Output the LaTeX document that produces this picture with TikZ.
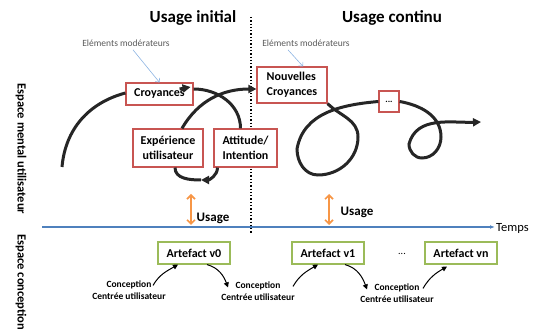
\documentclass[tikz,border=0pt]{standalone}
\usepackage{fontspec}
\setmainfont{Carlito}
\usetikzlibrary{arrows.meta}

\definecolor{boxred}{RGB}{200,85,82}
\definecolor{boxgreen}{RGB}{155,187,89}
\definecolor{axisblue}{RGB}{79,129,189}
\definecolor{usageorange}{RGB}{247,150,70}
\definecolor{modblue}{RGB}{141,180,226}
\definecolor{modgray}{RGB}{90,90,90}

\tikzset{
  title/.style={font=\fontsize{17}{20}\selectfont\bfseries},
  modtext/.style={font=\fontsize{9.5}{11}\selectfont, text=modgray},
  side/.style={font=\fontsize{12.5}{15}\selectfont\bfseries, rotate=-90},
  mental/.style={draw=boxred, line width=1.2pt, fill=white, align=center, inner sep=2pt,
    font=\fontsize{12}{15}\selectfont\bfseries},
  artefact/.style={draw=boxgreen, line width=1.2pt, fill=white, inner sep=2pt,
    minimum width=72pt, minimum height=22pt, font=\fontsize{12}{15}\selectfont\bfseries},
  concep/.style={align=center, inner sep=0pt, font=\fontsize{9.5}{12}\selectfont\bfseries},
  usagetext/.style={font=\fontsize{13}{15}\selectfont\bfseries},
  spiral/.style={line width=3pt, black!85},
  spiraltip/.style={-{Triangle[length=8pt,width=8pt]}},
  modarrow/.style={modblue, line width=0.6pt, -{Straight Barb[length=3pt]}},
  usagearrow/.style={usageorange, line width=1.6pt, {Straight Barb[length=4pt]}-{Straight Barb[length=4pt]}},
  axis/.style={axisblue, line width=1.1pt, -{Latex[length=5pt]}},
  design/.style={line width=1pt, -{Triangle[length=5pt,width=5pt]}},
  separation/.style={dotted, line width=1.3pt}
}

\begin{document}
\begin{tikzpicture}[x=1pt,y=1pt]
\useasboundingbox (0,0) rectangle (533,329);

\node[title] (init) at (193,311) {Usage initial};
\node[title] (cont) at (392,311) {Usage continu};
\draw[separation] (251,312) -- (251,96);

\node[side] (mental) at (21,180) {Espace mental utilisateur};
\node[side, anchor=west] (concept) at (21,98) {Espace conception};

\node[modtext] (mod1) at (126,286) {Eléments modérateurs};
\node[modtext] (mod2) at (306,286) {Eléments modérateurs};

\node[mental, minimum width=67pt, minimum height=22pt] (croy) at (159.5,235) {Croyances};
\node[mental, minimum width=70pt, minimum height=36pt, align=left] (ncroy) at (292,244) {Nouvelles\\Croyances};
\node[mental, minimum width=70pt, minimum height=38pt] (exp) at (168,181) {Expérience\\utilisateur};
\node[mental, minimum width=63pt, minimum height=38pt] (att) at (245.5,181) {Attitude/\\Intention};
\node[mental, minimum width=20pt, minimum height=21pt, inner sep=1pt,
  font=\fontsize{9}{10}\selectfont\bfseries] (etc) at (389,227.5) {...};

\draw[modarrow] ([xshift=7pt]mod1.south) -- (croy.north);
\draw[modarrow] ([xshift=-18pt]mod2.south) -- ([xshift=11pt]ncroy.north);

\coordinate (s0) at (62,162);
\coordinate (u1) at (201,149);
\coordinate (l1) at (358,192);
\coordinate (l2) at (318,154);
\coordinate (l3) at (297,180);
\coordinate (r1) at (441,192);
\coordinate (r2) at (422,171);
\coordinate (r3) at (409,185);
\coordinate (s9) at (481,207);

\draw[spiral] (s0) to[out=85,in=195] ([yshift=1pt]croy.west);
\draw[spiral, spiraltip] ([shift={(-14pt,5pt)}]croy.east) -- ([shift={(-3pt,7pt)}]croy.east);
\draw[spiral] ([yshift=5pt]croy.east) to[out=0,in=90] ([xshift=-5pt]att.north);
\draw[spiral, spiraltip] ([xshift=-28pt]att.south) to[out=-90,in=0] (u1);
\draw[spiral] (u1) to[out=180,in=-90] ([xshift=7pt]exp.south);
\draw[spiral, spiraltip] ([xshift=14pt]exp.north) to[out=60,in=180] ([yshift=-4pt]ncroy.west);
\draw[spiral] (ncroy.south east) to[out=-45,in=90] (l1) to[out=-90,in=0] (l2)
  to[out=180,in=-90] (l3) to[out=80,in=185] (etc.west);
\draw[spiral, spiraltip] (etc.east) to[out=-10,in=90] (r1) to[out=-90,in=0] (r2)
  to[out=180,in=-90] (r3) to[out=75,in=182] (s9);

\coordinate (t0) at (42,102);
\node[font=\fontsize{12.5}{15}\selectfont, anchor=west, inner sep=1pt] (temps) at (495,101) {Temps};
\draw[axis] (t0) -- (t0 -| temps.west);

\coordinate (a1) at (191,135);
\coordinate (b1) at (191,104);
\coordinate (a2) at (329,135);
\coordinate (b2) at (329,104);
\draw[usagearrow] (a1) -- (b1);
\draw[usagearrow] (a2) -- (b2);
\node[usagetext] (us1) at (213,111) {Usage};
\node[usagetext] (us2) at (357,117) {Usage};

\node[artefact] (v0) at (194,76) {Artefact v0};
\node[artefact] (v1) at (328,76) {Artefact v1};
\node[artefact] (vn) at (461,76) {Artefact vn};
\node[font=\fontsize{10}{12}\selectfont] (gap) at (402,75) {...};

\node[concep] (c1) at (129,39) {Conception\\Centrée utilisateur};
\node[concep] (c2) at (258,38) {Conception\\Centrée utilisateur};
\node[concep] (c3) at (397,36) {Conception\\Centrée utilisateur};

\draw[design] ([shift={(24pt,-5pt)}]c1.north) to[out=60,in=210] ([xshift=-16pt]v0.south);
\draw[design] ([xshift=13pt]v0.south) to[out=-15,in=110] ([shift={(-30pt,-6pt)}]c2.north);
\draw[design] ([shift={(35pt,-5pt)}]c2.north) to[out=60,in=210] ([xshift=-10pt]v1.south);
\draw[design] ([xshift=17pt]v1.south) to[out=-15,in=110] ([shift={(-30pt,-6pt)}]c3.north);
\draw[design] ([shift={(26pt,-5pt)}]c3.north) to[out=60,in=210] ([xshift=-14pt,yshift=-2pt]vn.south);
\end{tikzpicture}
\end{document}
